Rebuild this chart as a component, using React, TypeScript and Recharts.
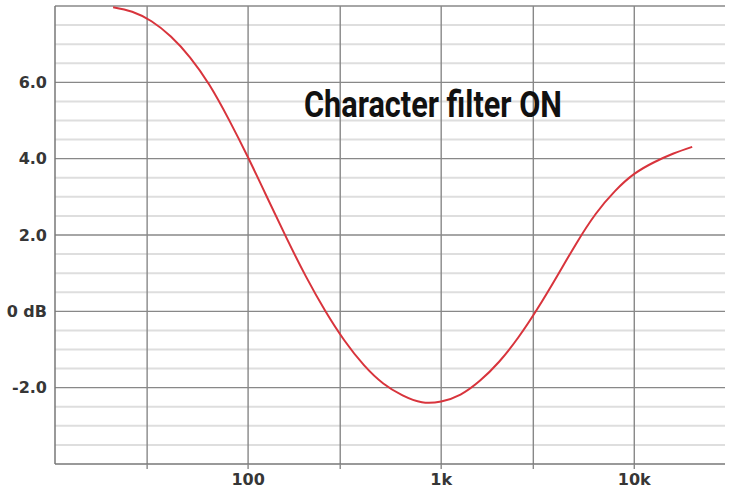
import React from 'react'
import { LineChart, Line, XAxis, YAxis, CartesianGrid } from 'recharts'

// frequency response (Hz, dB), tenth-decade steps
const freqs = [20, 25.1, 31.6, 39.8, 50.1, 63.1, 79.4, 100, 125.9, 158.5, 199.5, 251.2, 316.2, 398.1, 501.2, 631, 794.3, 1000, 1259, 1585, 1995, 2512, 3162, 3981, 5012, 6310, 7943, 10000, 12589, 15849, 19953]
const gainDb = [7.97, 7.85, 7.6, 7.2, 6.65, 5.93, 5.03, 4.03, 2.97, 1.91, 0.91, 0.01, -0.77, -1.41, -1.89, -2.2, -2.38, -2.36, -2.18, -1.82, -1.32, -0.68, 0.08, 0.92, 1.78, 2.55, 3.15, 3.6, 3.9, 4.13, 4.31]

const xTicks = [30, 100, 300, 1000, 3000, 10000]
const xLabels: Record<number, string> = { 100: '100', 1000: '1k', 10000: '10k' }
const yMajor = [-2, 0, 2, 4, 6, 8]
const yMinor = [-3.5, -3, -2.5, -1.5, -1, -0.5, 0.5, 1, 1.5, 2.5, 3, 3.5, 4.5, 5, 5.5, 6.5, 7, 7.5]
const yLabels: Record<string, string> = { '-2': '-2.0', '0': '0 dB', '2': '2.0', '4': '4.0', '6': '6.0' }

const data = freqs.map((f, i) => ({ f, db: gainDb[i] }))

const W = 730
const H = 494
const tickFont = { fontSize: 16, fill: '#363636', fontFamily: 'DejaVu Sans', fontWeight: 700 }

export default function App() {
  return (
    <div style={{ position: 'absolute', left: 0, top: 0, width: W, height: H, background: '#fff' }}>
      <LineChart width={W} height={H} data={data} margin={{ top: 6, right: 5, bottom: 0, left: 0 }}>
        <CartesianGrid horizontalValues={yMinor} vertical={false} stroke="#dedede" strokeWidth={2} />
        <CartesianGrid horizontalValues={yMajor} verticalValues={xTicks} stroke="#888" strokeWidth={1.4} />
        <XAxis
          dataKey="f"
          type="number"
          scale="log"
          domain={[10, 29500]}
          allowDataOverflow
          ticks={xTicks}
          height={30}
          tickSize={5}
          tickMargin={5}
          tickFormatter={(v) => xLabels[v] ?? ''}
          tick={tickFont}
          axisLine={{ stroke: '#777', strokeWidth: 1.5 }}
          tickLine={{ stroke: '#888', strokeWidth: 1.4 }}
        />
        <YAxis
          type="number"
          domain={[-4, 8]}
          ticks={[-4, ...yMajor]}
          width={55}
          tickLine={false}
          tickFormatter={(v) => yLabels[String(v)] ?? ''}
          tick={tickFont}
          axisLine={{ stroke: '#777', strokeWidth: 1.5 }}
        />
        <Line
          dataKey="db"
          type="natural"
          stroke="#d8343c"
          strokeWidth={2}
          dot={false}
          isAnimationActive={false}
        />
      </LineChart>
      <svg style={{ position: 'absolute', left: 0, top: 0 }} width={W} height={H}>
        <text
          x={304}
          y={117}
          fontFamily="Roboto"
          fontWeight={700}
          fontSize={37}
          fill="#111"
          textLength={258}
          lengthAdjust="spacingAndGlyphs"
        >
          Character filter ON
        </text>
      </svg>
    </div>
  )
}
